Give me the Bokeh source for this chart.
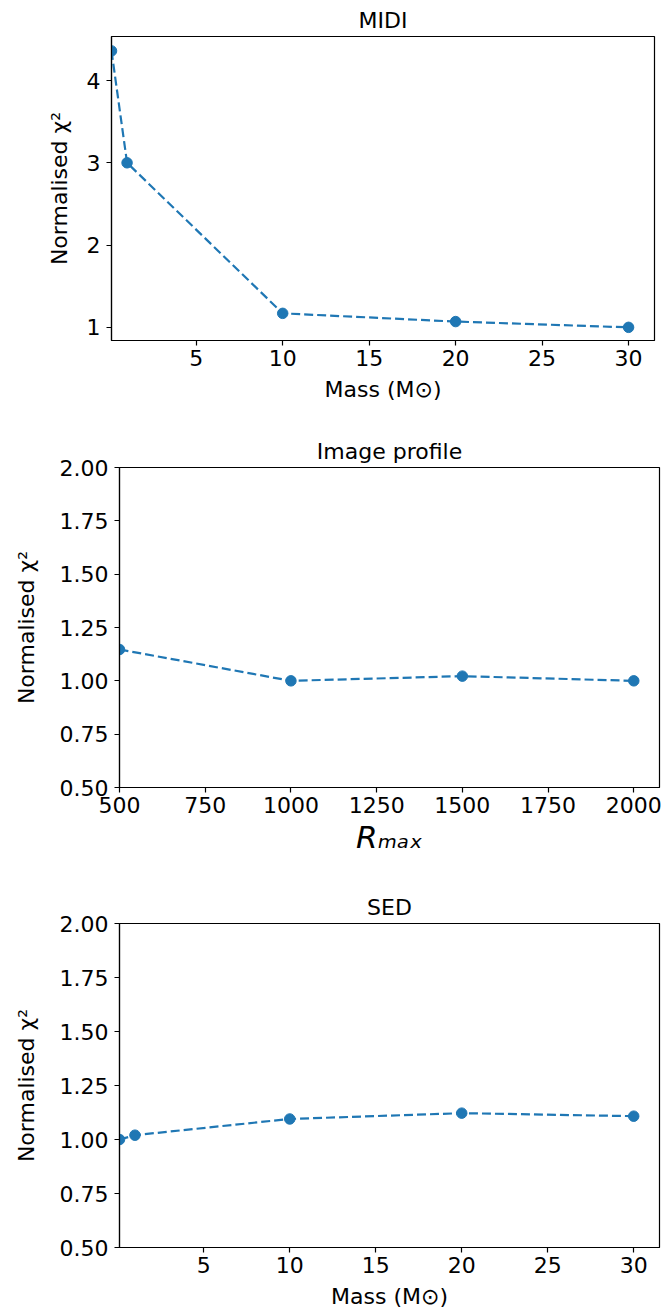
from bokeh.plotting import figure
from bokeh.layouts import column
from bokeh.models import FixedTicker, NumeralTickFormatter, Range1d
from bokeh.embed import file_html
from bokeh.resources import INLINE

# MIDI fit quality against stellar mass
midi_mass = [0.1, 1, 10, 20, 30]
midi_chi2 = [4.36, 3.00, 1.17, 1.07, 1.00]

# Image profile fit quality against outer radius
profile_rmax = [500, 1000, 1500, 2000]
profile_chi2 = [1.147, 1.00, 1.022, 1.00]

# SED fit quality against stellar mass
sed_mass = [0.1, 1, 10, 20, 30]
sed_chi2 = [1.00, 1.02, 1.095, 1.122, 1.108]

mass_ticks = [5, 10, 15, 20, 25, 30]
midi_chi_ticks = [1, 2, 3, 4]
rmax_ticks = [500, 750, 1000, 1250, 1500, 1750, 2000]
chi_ticks = [0.50, 0.75, 1.00, 1.25, 1.50, 1.75, 2.00]

BLUE = "#1f77b4"
FONT = "DejaVu Sans"
TEXT_SIZE = "22px"
W = 663


def panel(title, x, y, xr, yr, xticks, yticks, xlabel, height, borders, ylabel_gap):
    top, bottom, left, right = borders
    p = figure(width=W, height=height, output_backend="svg", toolbar_location=None,
               x_range=Range1d(*xr), y_range=Range1d(*yr),
               min_border_top=top, min_border_bottom=bottom,
               min_border_left=left, min_border_right=right)
    p.title.text = title
    p.title.align = "center"
    p.title.text_font = FONT
    p.title.text_font_size = TEXT_SIZE
    p.title.text_font_style = "normal"
    p.title.text_color = "#000000"
    p.title.offset = 0
    p.title.standoff = 7

    p.line(x, y, line_color=BLUE, line_width=2.2, line_dash="9 4")
    p.scatter(x, y, size=10.5, fill_color=BLUE, line_color=BLUE)

    p.xgrid.visible = False
    p.ygrid.visible = False
    p.outline_line_color = "#000000"
    p.outline_line_width = 1.2
    p.background_fill_color = "white"
    p.border_fill_color = "white"

    for ax in (p.xaxis[0], p.yaxis[0]):
        ax.axis_line_color = "#000000"
        ax.axis_line_width = 1.2
        ax.major_tick_line_color = "#000000"
        ax.major_tick_line_width = 1.2
        ax.major_tick_out = 5
        ax.major_tick_in = 0
        ax.minor_tick_line_color = None
        ax.major_label_text_font = FONT
        ax.major_label_text_font_size = TEXT_SIZE
        ax.major_label_text_color = "#000000"
        ax.axis_label_text_font = FONT
        ax.axis_label_text_font_size = TEXT_SIZE
        ax.axis_label_text_font_style = "normal"
        ax.axis_label_text_color = "#000000"

    p.xaxis.major_label_standoff = 4
    p.yaxis.major_label_standoff = 6
    p.xaxis.ticker = FixedTicker(ticks=xticks)
    p.yaxis.ticker = FixedTicker(ticks=yticks)
    p.xaxis.axis_label = xlabel
    p.xaxis.axis_label_standoff = 8
    p.yaxis.axis_label = "Normalised \u03c7\u00b2"
    p.yaxis.axis_label_standoff = ylabel_gap
    return p


p1 = panel("MIDI", midi_mass, midi_chi2, (0.1, 31.5), (0.84, 4.535),
           mass_ticks, midi_chi_ticks, "Mass (M\u2299)", 425, (36, 85, 111, 9), 12)

p2 = panel("Image profile", profile_rmax, profile_chi2, (500, 2075), (0.5, 2.0),
           rmax_ticks, chi_ticks, "R\u2098\u2090\u2093", 450, (42, 88, 119, 4), 18)
p2.yaxis.formatter = NumeralTickFormatter(format="0.00")
p2.xaxis.axis_label_text_font_style = "italic"
p2.xaxis.axis_label_text_font_size = "31px"
p2.xaxis.axis_label_standoff = 3

p3 = panel("SED", sed_mass, sed_chi2, (0.1, 31.5), (0.5, 2.0),
           mass_ticks, chi_ticks, "Mass (M\u2299)", 439, (48, 67, 119, 4), 18)
p3.yaxis.formatter = NumeralTickFormatter(format="0.00")

# each panel sits in its own box so that the frames keep their own margins
layout = column(column(p1), column(p2), column(p3), spacing=0)
open("out.html", "w").write(file_html(layout, INLINE))
